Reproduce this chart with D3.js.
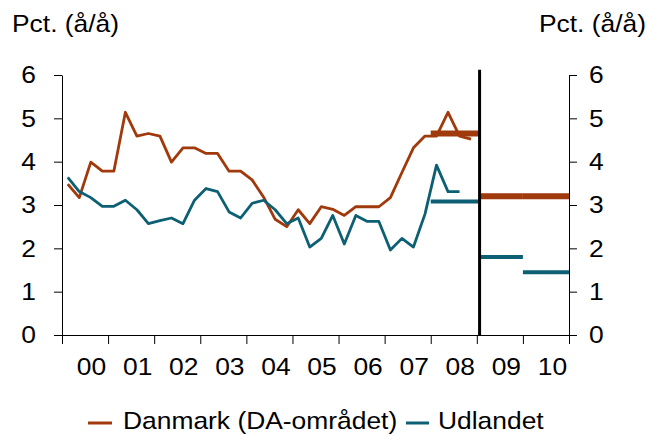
<!DOCTYPE html>
<html><head><meta charset="utf-8">
<script src="https://cdn.jsdelivr.net/npm/d3@7"></script>
<style>
body{margin:0;background:#fff}
svg{display:block}
text{font-family:"Liberation Sans",Arial,sans-serif;fill:#000}
</style>
</head><body>
<svg id="chart" width="657" height="436"></svg>
<script>
// ---- data ----
const yearLabels = ["00","01","02","03","04","05","06","07","08","09","10"];
const labelYears = [2000,2001,2002,2003,2004,2005,2006,2007,2008,2009,2010];
const tickYears = [2000,2001,2002,2003,2004,2005,2006,2007,2008,2009,2010,2011];
const yTicks = [0,1,2,3,4,5,6];
// quarterly, starting 2000 Q1
const danmark = [3.48,3.17,3.99,3.78,3.78,5.14,4.59,4.65,4.59,3.99,4.32,4.32,
                 4.19,4.19,3.78,3.78,3.58,3.18,2.67,2.50,2.89,2.57,2.96,2.90,
                 2.76,2.96,2.96,2.96,3.17,3.75,4.32,4.59,4.59,5.14,4.59,4.52];
const udlandet = [3.64,3.31,3.17,2.97,2.97,3.11,2.89,2.57,2.64,2.70,2.57,3.11,
                  3.38,3.31,2.84,2.70,3.04,3.11,2.89,2.57,2.70,2.03,2.23,2.76,
                  2.10,2.76,2.62,2.62,1.96,2.23,2.03,2.79,3.92,3.31,3.31];
const forecastYears = [2008,2009,2010];
const danmarkForecast = [4.65,3.2,3.2];
const udlandetForecast = [3.08,1.8,1.45];
const splitYear = 2009.06;
const legendNames = ["Danmark (DA-området)","Udlandet"];

// ---- setup ----
const DK = "#A0390B", UD = "#0D5F73";
const FS = "24px", SX = 1.1;
const svg = d3.select("#chart");
const x = d3.scaleLinear([2000,2011],[62,569]);
const y = d3.scaleLinear([0,6],[335,75]);
const qt = i => 2000 + (i + 0.5) / 4;

function stretch(sel){
  sel.each(function(){
    const t = d3.select(this);
    const tx = +t.attr("x") || 0, ty = +t.attr("y") || 0;
    t.attr("x",0).attr("y",0)
     .attr("transform",`translate(${tx},${ty}) scale(${SX},1)`)
     .style("font-size",FS).attr("fill","#000");
  });
}
function styleAxis(g){
  g.selectAll(".domain").attr("stroke","#000");
  g.selectAll(".tick line").attr("stroke","#000");
  g.attr("font-family",null).attr("font-size",null);
}

// axes
const gl = svg.append("g").attr("transform","translate(62,0)")
  .call(d3.axisLeft(y).tickValues(yTicks).tickSize(8).tickSizeOuter(0).tickPadding(18).tickFormat(d3.format("d")));
styleAxis(gl); stretch(gl.selectAll("text"));

const gr = svg.append("g").attr("transform","translate(569,0)")
  .call(d3.axisRight(y).tickValues(yTicks).tickSize(8).tickSizeOuter(0).tickPadding(12).tickFormat(d3.format("d")));
styleAxis(gr); stretch(gr.selectAll("text"));

const gb = svg.append("g").attr("transform","translate(0,335)")
  .call(d3.axisBottom(x).tickValues(tickYears).tickSize(9).tickSizeOuter(0).tickFormat(""));
styleAxis(gb);

const gbl = svg.append("g").attr("transform","translate(0,335)")
  .call(d3.axisBottom(x).tickValues(labelYears.map(v=>v+0.5)).tickSize(0)
        .tickFormat((d,i)=>yearLabels[i]));
gbl.select(".domain").remove();
gbl.attr("font-family",null).attr("font-size",null);
gbl.selectAll("text").attr("x",6).attr("y",40).attr("dy",null);
stretch(gbl.selectAll("text"));

// forecast bars
function fcSeg(yr){
  let a = yr, b = yr + 1;
  if (yr === 2008) b = splitYear;
  if (yr === 2009) a = splitYear;
  return [a,b];
}
const fc = svg.append("g");
forecastYears.forEach((yr,k)=>{
  const [a,b] = fcSeg(yr);
  fc.append("line").attr("x1",x(a)).attr("x2",x(b))
    .attr("y1",y(danmarkForecast[k])).attr("y2",y(danmarkForecast[k]))
    .attr("stroke",DK).attr("stroke-width",6);
});
forecastYears.forEach((yr,k)=>{
  const [a,b] = fcSeg(yr);
  fc.append("line").attr("x1",x(a)).attr("x2",x(b))
    .attr("y1",y(udlandetForecast[k])).attr("y2",y(udlandetForecast[k]))
    .attr("stroke",UD).attr("stroke-width",4);
});

// lines
const line = d3.line().x((d,i)=>x(qt(i))).y(d=>y(d));
svg.append("path").datum(danmark).attr("d",line)
  .attr("fill","none").attr("stroke",DK).attr("stroke-width",2.8).attr("stroke-linejoin","round");
svg.append("path").datum(udlandet).attr("d",line)
  .attr("fill","none").attr("stroke",UD).attr("stroke-width",2.8).attr("stroke-linejoin","round");

// split line
svg.append("line").attr("x1",x(splitYear)).attr("x2",x(splitYear))
  .attr("y1",y(6.12)).attr("y2",y(0)).attr("stroke","#000").attr("stroke-width",3);

// titles
svg.append("text").attr("x",12).attr("y",32).text("Pct. (å/å)").call(stretch);
svg.append("text").attr("x",646).attr("y",32).attr("text-anchor","end").text("Pct. (å/å)").call(stretch);

// legend
const legX = [[88,112,123],[406,429,438]];
const legC = [DK,UD];
legendNames.forEach((nm,i)=>{
  svg.append("line").attr("x1",legX[i][0]).attr("x2",legX[i][1]).attr("y1",423).attr("y2",423)
    .attr("stroke",legC[i]).attr("stroke-width",3);
  svg.append("text").attr("x",legX[i][2]).attr("y",429).text(nm).call(stretch);
});
</script>
</body></html>
